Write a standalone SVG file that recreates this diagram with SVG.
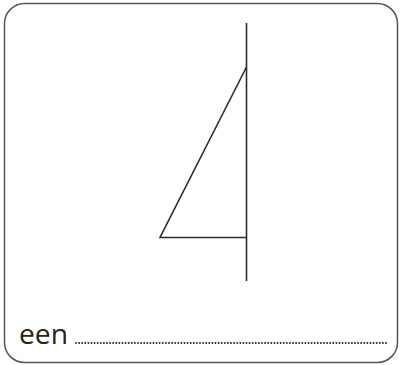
<svg xmlns="http://www.w3.org/2000/svg" width="400" height="365" viewBox="0 0 400 365">
<style>
.frame{fill:#fff;stroke:#555;stroke-width:1.5}
.ln{fill:none;stroke:#2b2b2b;stroke-width:1.6}
.lbl{font-family:"Open Sans","Liberation Sans",sans-serif;font-size:27.5px;fill:#222}
.dots{stroke:#222;stroke-width:1.9;stroke-linecap:round;stroke-dasharray:0 3.1}
</style>
<rect class="frame" x="4.5" y="3.5" width="393" height="359" rx="20" ry="20"/>
<g id="figure">
<line class="ln" x1="246.5" y1="23" x2="246.5" y2="281"/>
<polyline class="ln" points="246.5,67 160,237.5 246.5,237.5"/>
</g>
<g id="answer">
<text class="lbl" x="19" y="344" textLength="49" lengthAdjust="spacingAndGlyphs">een</text>
<line class="dots" x1="76" y1="343" x2="388" y2="343"/>
</g>
</svg>
